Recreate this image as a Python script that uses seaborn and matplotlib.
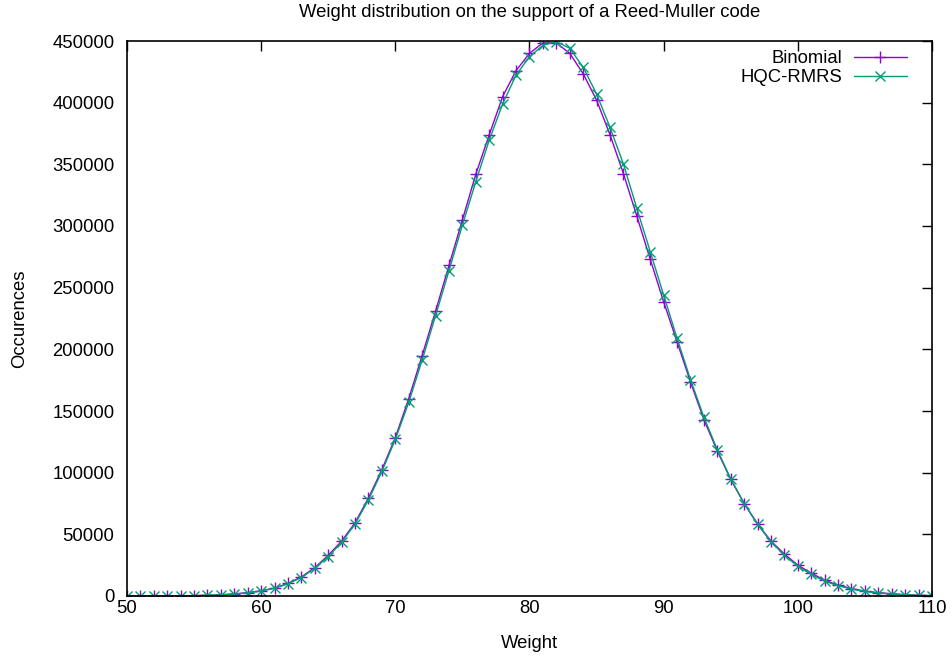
import matplotlib
matplotlib.use("Agg")
import matplotlib.pyplot as plt
import seaborn as sns
import pandas as pd

weights = [50, 51, 52, 53, 54, 55, 56, 57, 58, 59,
           60, 61, 62, 63, 64, 65, 66, 67, 68, 69,
           70, 71, 72, 73, 74, 75, 76, 77, 78, 79,
           80, 81, 82, 83, 84, 85, 86, 87, 88, 89,
           90, 91, 92, 93, 94, 95, 96, 97, 98, 99,
           100, 101, 102, 103, 104, 105, 106, 107, 108, 109, 110]

binomial = [0, 0, 0, 100, 200, 300, 600, 1000, 1700, 2700,
            4200, 6500, 10200, 15500, 23000, 33000, 44500, 59500, 79500, 102500,
            128500, 160000, 195000, 231000, 268000, 305000, 342000, 374000, 405000, 426000,
            440000, 448500, 448500, 440000, 423500, 402000, 374000, 342500, 308000, 273000,
            238500, 206000, 173500, 143000, 117500, 94500, 75000, 58500, 44500, 34000,
            25000, 18500, 12800, 8800, 6000, 4000, 2700, 1800, 1100, 600, 300]

hqc_rmrs = [0, 0, 0, 100, 200, 300, 500, 900, 1600, 2500,
            4000, 6300, 9900, 15000, 22500, 32000, 43500, 58500, 78000, 101000,
            127000, 157000, 191300, 227300, 263800, 300800, 336000, 369700, 399000, 422400,
            437300, 446500, 449500, 444100, 428700, 407000, 380000, 350300, 314300, 279200,
            244000, 208900, 175500, 145000, 118500, 95000, 75000, 58000, 44000, 33000,
            24000, 17500, 12000, 8300, 5600, 3700, 2400, 1600, 1000, 500, 250]

x_ticks = [50, 60, 70, 80, 90, 100, 110]
y_ticks = [0, 50000, 100000, 150000, 200000, 250000, 300000, 350000, 400000, 450000]

title = "Weight distribution on the support of a Reed-Muller code"

sns.set_theme(style="white")
plt.rcParams['font.family'] = ['Liberation Sans', 'DejaVu Sans']
plt.rcParams['text.color'] = 'black'
plt.rcParams['axes.labelcolor'] = 'black'
plt.rcParams['xtick.color'] = 'black'
plt.rcParams['ytick.color'] = 'black'

df = pd.DataFrame({"Weight": weights, "Binomial": binomial, "HQC-RMRS": hqc_rmrs})

fig = plt.figure(figsize=(9.52, 6.56), dpi=100)
ax = fig.add_axes([127/952, 60/656, 805/952, 555/656])

purple = "#9400d3"
green = "#009e73"
fs = 13.3

sns.lineplot(data=df, x="Weight", y="Binomial", ax=ax, color=purple,
             marker="+", markersize=8, markeredgewidth=1.0, markeredgecolor=purple,
             linewidth=1.0, dashes=False, label="Binomial")
sns.lineplot(data=df, x="Weight", y="HQC-RMRS", ax=ax, color=green,
             marker="x", markersize=6.5, markeredgewidth=1.0, markeredgecolor=green,
             linewidth=1.0, dashes=False, label="HQC-RMRS")

ax.set_xlim(50, 110)
ax.set_ylim(0, 450000)
ax.set_xticks(x_ticks)
ax.set_yticks(y_ticks)
ax.set_xticklabels([str(t) for t in x_ticks])
ax.set_yticklabels([str(t) for t in y_ticks])
ax.tick_params(direction="in", length=7, width=1, top=True, right=True,
               labelsize=fs, colors="black")
ax.tick_params(axis="x", pad=3)
ax.tick_params(axis="y", pad=9)
for s in ax.spines.values():
    s.set_visible(True)
    s.set_color("black")
    s.set_linewidth(1.2)

ax.set_xlabel("Weight", fontsize=fs, labelpad=13)
ax.set_ylabel("Occurences", fontsize=fs, labelpad=17.5)
ax.set_title(title, fontsize=fs, pad=17)

leg = ax.legend(loc="upper right", frameon=False, markerfirst=False,
                fontsize=fs, handlelength=2.9, labelspacing=0.1,
                bbox_to_anchor=(0.983, 1.003), borderaxespad=0.2, handletextpad=0.6)

fig.savefig("out.png", dpi=100)
